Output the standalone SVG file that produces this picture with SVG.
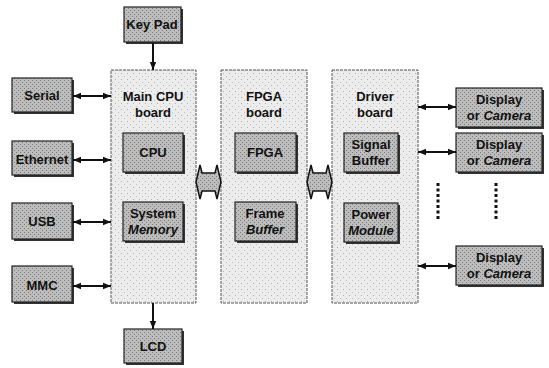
<svg xmlns="http://www.w3.org/2000/svg" width="549" height="368" viewBox="0 0 549 368">
<defs>
<pattern id="stip" width="4" height="4" patternUnits="userSpaceOnUse">
<rect width="4" height="4" fill="#bdbdbd"/>
<rect x="0" y="0" width="1" height="1" fill="#7a7a7a"/>
<rect x="2" y="2" width="1" height="1" fill="#7a7a7a"/>
</pattern>
<pattern id="light" width="6" height="6" patternUnits="userSpaceOnUse">
<rect width="6" height="6" fill="#ececec"/>
<rect x="1" y="1" width="1" height="1" fill="#b0b0b0"/>
<rect x="4" y="4" width="1" height="1" fill="#c0c0c0"/>
</pattern>
<marker id="ah" viewBox="0 0 10 10" refX="10" refY="5" markerWidth="8" markerHeight="8" markerUnits="userSpaceOnUse" orient="auto-start-reverse">
<path d="M0,1 L10,5 L0,9 Z" fill="#111"/>
</marker>
</defs>
<style>
text{font-family:"Liberation Sans",Arial,sans-serif;font-size:13px;font-weight:bold;fill:#111;text-anchor:middle}
.it{font-style:italic}
.board{fill:url(#light);stroke:#555;stroke-width:1;stroke-dasharray:3 1}
.box{fill:url(#stip);stroke:#222;stroke-width:1.2}
.sh{fill:#333}
.cn{stroke:#111;stroke-width:2;fill:none}
.blk{fill:url(#stip);stroke:#111;stroke-width:1.5}
.dots{stroke:#111;stroke-width:3;stroke-dasharray:3 2.5;fill:none}
</style>
<rect width="549" height="368" fill="#fff"/>

<g id="main-board"><rect class="board" x="111" y="70" width="85" height="233"/><text x="153" y="101">Main CPU</text><text x="153" y="117">board</text></g>
<g id="fpga-board"><rect class="board" x="221" y="70" width="86" height="233"/><text x="264" y="101">FPGA</text><text x="264" y="117">board</text></g>
<g id="driver-board"><rect class="board" x="332" y="70" width="86" height="233"/><text x="375" y="101">Driver</text><text x="375" y="117">board</text></g>

<g id="keypad"><rect class="sh" x="126" y="9" width="57" height="35"/><rect class="box" x="124" y="7" width="57" height="35"/><text x="152" y="29">Key Pad</text></g>
<g id="serial"><rect class="sh" x="14" y="80" width="60" height="34"/><rect class="box" x="12" y="78" width="60" height="34"/><text x="42" y="100">Serial</text></g>
<g id="ethernet"><rect class="sh" x="14" y="143" width="60" height="34"/><rect class="box" x="12" y="141" width="60" height="34"/><text x="42" y="164">Ethernet</text></g>
<g id="usb"><rect class="sh" x="14" y="205" width="60" height="36"/><rect class="box" x="12" y="203" width="60" height="36"/><text x="42" y="226">USB</text></g>
<g id="mmc"><rect class="sh" x="14" y="268" width="60" height="36"/><rect class="box" x="12" y="266" width="60" height="36"/><text x="42" y="290">MMC</text></g>
<g id="lcd"><rect class="sh" x="126" y="331" width="58" height="34"/><rect class="box" x="124" y="329" width="58" height="34"/><text x="153" y="351">LCD</text></g>

<g id="cpu"><rect class="sh" x="125" y="135" width="60" height="39"/><rect class="box" x="123" y="133" width="60" height="39"/><text x="153" y="157">CPU</text></g>
<g id="sysmem"><rect class="sh" x="125" y="204" width="60" height="39"/><rect class="box" x="123" y="202" width="60" height="39"/><text x="153" y="218">System</text><text class="it" x="153" y="234">Memory</text></g>
<g id="fpga"><rect class="sh" x="237" y="135" width="61" height="39"/><rect class="box" x="235" y="133" width="61" height="39"/><text x="265" y="157">FPGA</text></g>
<g id="framebuf"><rect class="sh" x="237" y="204" width="61" height="39"/><rect class="box" x="235" y="202" width="61" height="39"/><text x="265" y="218">Frame</text><text class="it" x="265" y="234">Buffer</text></g>
<g id="sigbuf"><rect class="sh" x="346" y="135" width="54" height="39"/><rect class="box" x="344" y="133" width="54" height="39"/><text x="371" y="149">Signal</text><text x="371" y="165">Buffer</text></g>
<g id="power"><rect class="sh" x="346" y="205" width="54" height="39"/><rect class="box" x="344" y="203" width="54" height="39"/><text x="371" y="219">Power</text><text class="it" x="371" y="235">Module</text></g>

<g id="disp1"><rect class="sh" x="458" y="90" width="86" height="39"/><rect class="box" x="456" y="88" width="86" height="39"/><text x="499" y="104">Display</text><text x="499" y="120">or <tspan class="it">Camera</tspan></text></g>
<g id="disp2"><rect class="sh" x="458" y="135" width="86" height="39"/><rect class="box" x="456" y="133" width="86" height="39"/><text x="499" y="149">Display</text><text x="499" y="165">or <tspan class="it">Camera</tspan></text></g>
<g id="disp3"><rect class="sh" x="458" y="248" width="86" height="39"/><rect class="box" x="456" y="246" width="86" height="39"/><text x="499" y="262">Display</text><text x="499" y="278">or <tspan class="it">Camera</tspan></text></g>

<g id="connectors">
<line class="cn" x1="153" y1="43" x2="153" y2="70" marker-end="url(#ah)"/>
<line class="cn" x1="153" y1="303" x2="153" y2="329" marker-end="url(#ah)"/>
<line class="cn" x1="73" y1="96" x2="111" y2="96" marker-start="url(#ah)" marker-end="url(#ah)"/>
<line class="cn" x1="73" y1="160" x2="111" y2="160" marker-start="url(#ah)" marker-end="url(#ah)"/>
<line class="cn" x1="73" y1="222" x2="111" y2="222" marker-start="url(#ah)" marker-end="url(#ah)"/>
<line class="cn" x1="73" y1="286" x2="111" y2="286" marker-start="url(#ah)" marker-end="url(#ah)"/>
<line class="cn" x1="418" y1="107" x2="456" y2="107" marker-start="url(#ah)" marker-end="url(#ah)"/>
<line class="cn" x1="418" y1="152" x2="456" y2="152" marker-start="url(#ah)" marker-end="url(#ah)"/>
<line class="cn" x1="418" y1="266" x2="456" y2="266" marker-start="url(#ah)" marker-end="url(#ah)"/>
<path class="blk" d="M196,182 L200,165 L202,173 L215,173 L217,165 L221,182 L217,199 L215,191 L202,191 L200,199 Z"/>
<path class="blk" d="M307,182 L311,165 L313,173 L326,173 L328,165 L332,182 L328,199 L326,191 L313,191 L311,199 Z"/>
<line class="dots" x1="438" y1="183" x2="438" y2="220"/>
<line class="dots" x1="496" y1="183" x2="496" y2="220"/>
</g>
</svg>
